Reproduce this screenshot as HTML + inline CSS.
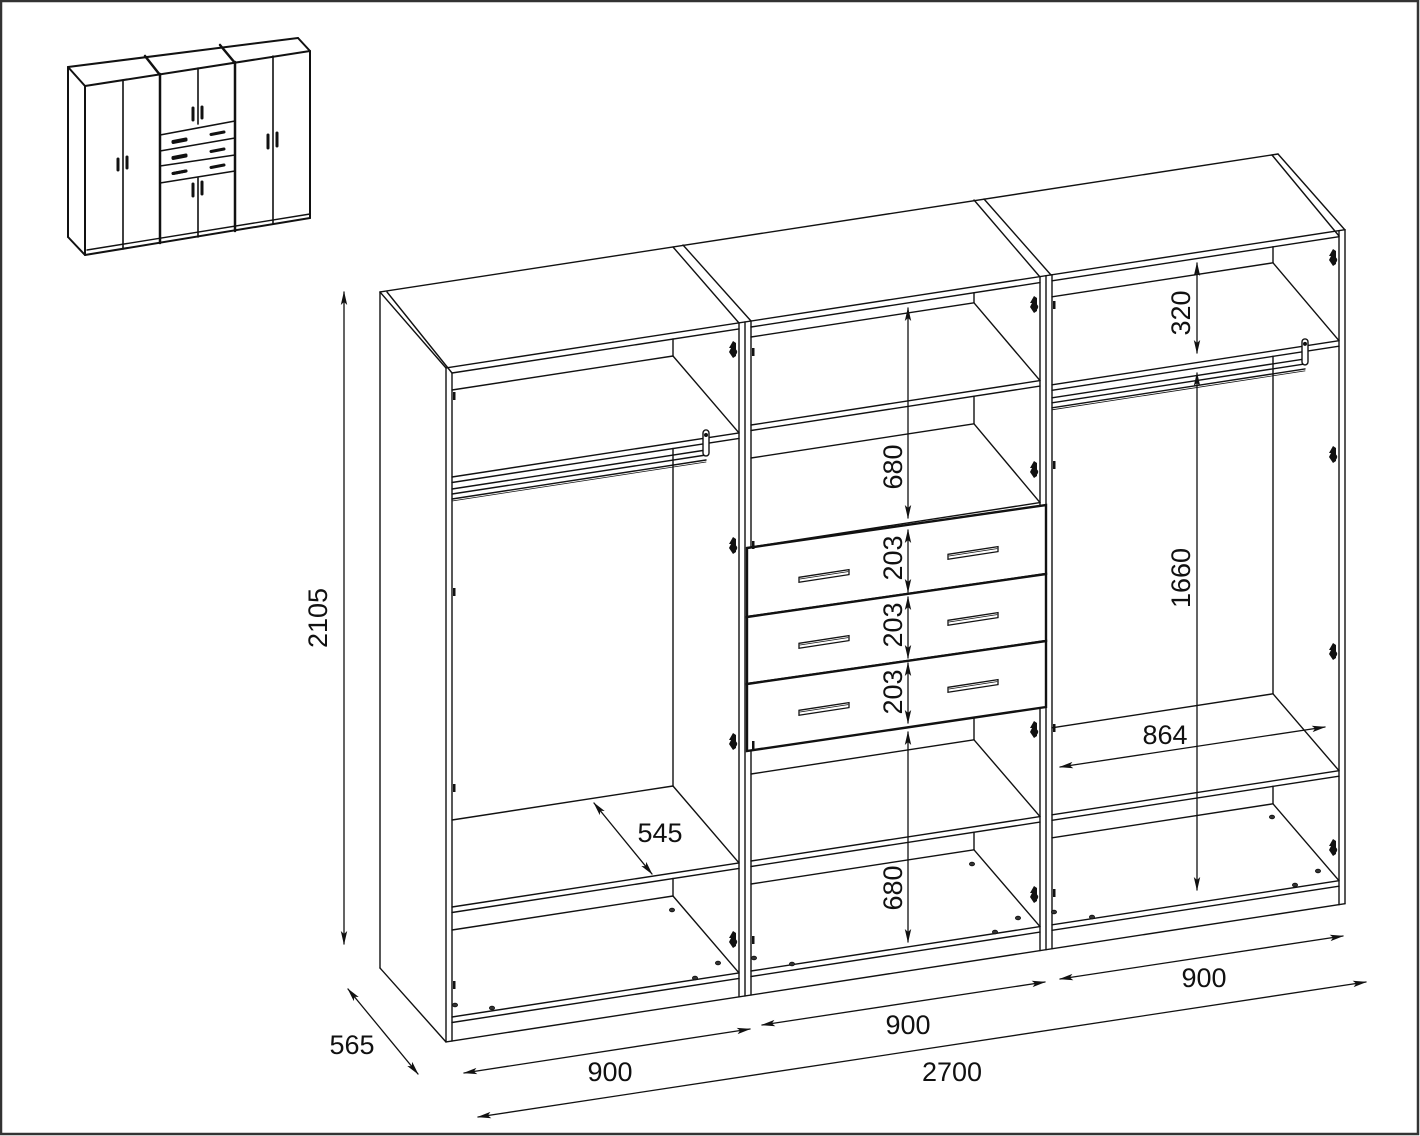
<!DOCTYPE html>
<html><head><meta charset="utf-8">
<style>
html,body{margin:0;padding:0;background:#fff;}
svg{display:block;}
text{font-family:"Liberation Sans",Arial,sans-serif;font-size:27px;fill:#111;}
</style></head>
<body>
<svg id="s" width="1420" height="1136" viewBox="0 0 1420 1136" xmlns="http://www.w3.org/2000/svg">
<defs>
<marker id="a" viewBox="0 0 14 8" refX="13" refY="4" markerWidth="14" markerHeight="8" markerUnits="userSpaceOnUse" orient="auto-start-reverse">
<path d="M0,0.8 L14,4 L0,7.2 L3,4 z" fill="#111"/>
</marker>
</defs>
<rect x="1" y="1" width="1417" height="1133" fill="#fff" stroke="#333" stroke-width="2.5"/>
<g id="g" stroke="#111" stroke-width="1.4" fill="none" stroke-linecap="round"></g>
<g id="t"></g>
</svg>
<script>
(function(){
const k=0.1537;
function Y(y0,x){return y0-k*(x-452);}
let o='';
function L(x1,y1,x2,y2,w){o+='<line x1="'+x1.toFixed(1)+'" y1="'+y1.toFixed(1)+'" x2="'+x2.toFixed(1)+'" y2="'+y2.toFixed(1)+'"'+(w?' stroke-width="'+w+'"':'')+'/>';}
function H(y0,x1,x2,w){L(x1,Y(y0,x1),x2,Y(y0,x2),w);}
function P(pts,fill,w){o+='<polygon points="'+pts.map(p=>p[0].toFixed(1)+','+p[1].toFixed(1)).join(' ')+'" fill="'+(fill||'none')+'"'+(w?' stroke-width="'+w+'"':'')+'/>';}

// roof / outer
L(380,292,1278,154);
L(380,292,446,368); L(387,292,452,373);
L(1278,154,1345,230); L(1272,155,1339,236);
L(380,292,380,968); L(380,968,446,1042);
L(673,247,739,323); L(683,245,751,321);
L(974,200,1040,277); L(984,199,1051,275);
H(367,446,1345);
H(1041,446,1345);
// verticals
[[446,368],[452,373]].forEach(v=>L(v[0],v[1],v[0],Y(1041,v[0])));
[739,745,751,1040,1046,1052,1339,1345].forEach(x=>L(x,Y(367,x),x,Y(1041,x)));

const cabs=[{Li:452,Ri:739,sh:[[477,390],[907,820],[1017,930]]},
 {Li:751,Ri:1040,sh:[[471,383],[593,504],[907,820],[1017,930]]},
 {Li:1052,Ri:1339,sh:[[477,389],[907,820],[1017,930]]}];
cabs.forEach(c=>{
  const B=c.Ri-66;
  H(373,c.Li,c.Ri);
  let prev=Y(373,B);
  c.sh.forEach(s=>{
    const f=s[0],b=s[1];
    H(f,c.Li,c.Ri); H(f+5.5,c.Li,c.Ri);
    H(b,c.Li,B);
    L(B,Y(b,B),c.Ri,Y(f,c.Ri));
    L(B,prev,B,Y(b,B));
    prev=Y(f+5.5,B);
  });
});
// rails
[[452,706,489],[1052,1305,490]].forEach(r=>{
  H(r[2],r[0],r[1]); H(r[2]+5,r[0],r[1]); H(r[2]+10,r[0],r[1]); H(r[2]+12,r[0],r[1],0.8);
  const bx=r[1], by=Y(r[2],bx);
  o+='<rect x="'+(bx-3)+'" y="'+(by-20)+'" width="6" height="26" rx="3" fill="#fff"/>';
  o+='<circle cx="'+bx+'" cy="'+(by-15)+'" r="1.3" fill="#111"/>';
});
// drawers
const dr=[[548,505,617,574],[617,574,684,641],[684,641,751,707]];
dr.forEach(d=>P([[747,d[0]],[1046,d[1]],[1046,d[3]],[747,d[2]]],'#fff',2.4));
function hd(cx,cy){P([[cx-25,cy+1.3],[cx+25,cy-6.4],[cx+25,cy-1.4],[cx-25,cy+6.3]],'#fff',1.3);L(cx-24,cy+3,cx+24,cy-4.4,0.7);}
[[576,553],[642,619],[709,686]].forEach(h=>{hd(824,h[0]);hd(973,h[1]);});
// hinges
function hinge(x,y){o+='<path d="M'+x+','+(y-9)+' l-4,7 l2,0 l-2,4 l4,6 l3,-2 l0,-13 z" fill="#111" stroke="none"/><circle cx="'+(x+1)+'" cy="'+(y+2)+'" r="3.2" fill="#111" stroke="none"/>';}
[[733,[350,546,742,940]],[1034,[305,470,730,895]],[1333,[258,455,652,848]]].forEach(h=>h[1].forEach(y=>hinge(h[0],y)));
// small ticks on inner left panels
[[454,[396,592,788,985]],[753,[352,545,745,940]],[1054,[305,465,728,893]]].forEach(h=>h[1].forEach(y=>{o+='<rect x="'+(h[0]-1)+'" y="'+(y-4)+'" width="2.5" height="8" fill="#111" stroke="none"/>';}));
// holes
[[672,910],[718,963],[695,978],[492,1008],[455,1005],[972,864],[1018,918],[995,932],[792,964],[754,958],[1272,817],[1318,871],[1295,885],[1092,917],[1054,912]].forEach(p=>{o+='<ellipse cx="'+p[0]+'" cy="'+p[1]+'" rx="2.6" ry="1.8" fill="#333" stroke-width="0.8"/>';});

// thumbnail
function T(x1,y1,x2,y2,w){L(x1,y1,x2,y2,w||2);}
T(68,67,298,38);T(68,67,85,86);T(85,86,310,51);T(298,38,310,51);
T(68,67,68,237);T(68,237,85,255);T(85,86,85,255);T(85,255,310,218);T(310,51,310,218);
T(87,250,310,214,1.4);
T(145,56,160,75,2.5);T(220,45,235,63,2.5);
T(160,74,160,243,2.5);T(235,62,235,231,2.5);
T(123,80,123,249,1.6);T(273,56,273,224,1.6);
T(198,68,198,124,1.6);T(198,178,198,237,1.6);
[[135,121],[151,138],[166,155],[183,171]].forEach(d=>T(160,d[0],235,d[1],1.6));
function vb(x,y1,y2){T(x,y1,x,y2,3);}
vb(118,159,170);vb(127,157,168);vb(193,108,120);vb(202,107,118);vb(193,184,196);vb(202,182,194);vb(268,135,148);vb(277,133,146);
function hb(x,y){T(x,y+1.5,x+13,y-1,3);}
[[143],[159],[174]].forEach((d,i)=>{hb(173,d[0]-2+0);});
hb(173,140);hb(211,133);hb(173,156);hb(211,150);hb(173,172);hb(211,166);

// dimensions
function D(x1,y1,x2,y2){o+='<line x1="'+x1+'" y1="'+y1+'" x2="'+x2+'" y2="'+y2+'" stroke-width="1.3" marker-start="url(#a)" marker-end="url(#a)"/>';}
D(344,292,344,944);
D(348,989,418,1074);
D(464,1073,750,1029);
D(762,1025,1045,982);
D(1060,979,1343,936);
D(478,1117,1366,982);
D(594,803,652,874);
D(1060,767,1325,727);
D(908,308,908,518);
D(908,530,908,592);
D(908,597,908,658);
D(908,663,908,723);
D(908,732,908,942);
D(1197,263,1197,353);
D(1197,373,1197,890);
document.getElementById('g').innerHTML=o;
})();
</script>
<script>
(function(){
const t=[["900",610,1081,0],["900",908,1034,0],["900",1204,987,0],["2700",952,1081,0],["565",352,1054,0],["545",660,842,0],["864",1165,744,0],
["2105",318,618,1],["680",893,467,1],["203",893,558,1],["203",893,625,1],["203",893,692,1],["680",893,888,1],["320",1181,313,1],["1660",1181,578,1]];
let s='';
t.forEach(a=>{
 if(a[3]) s+='<text x="0" y="0" text-anchor="middle" dominant-baseline="central" transform="translate('+a[1]+','+a[2]+') rotate(-90)">'+a[0]+'</text>';
 else s+='<text x="'+a[1]+'" y="'+a[2]+'" text-anchor="middle">'+a[0]+'</text>';
});
document.getElementById('t').innerHTML=s;
})();
</script>
</body></html>
